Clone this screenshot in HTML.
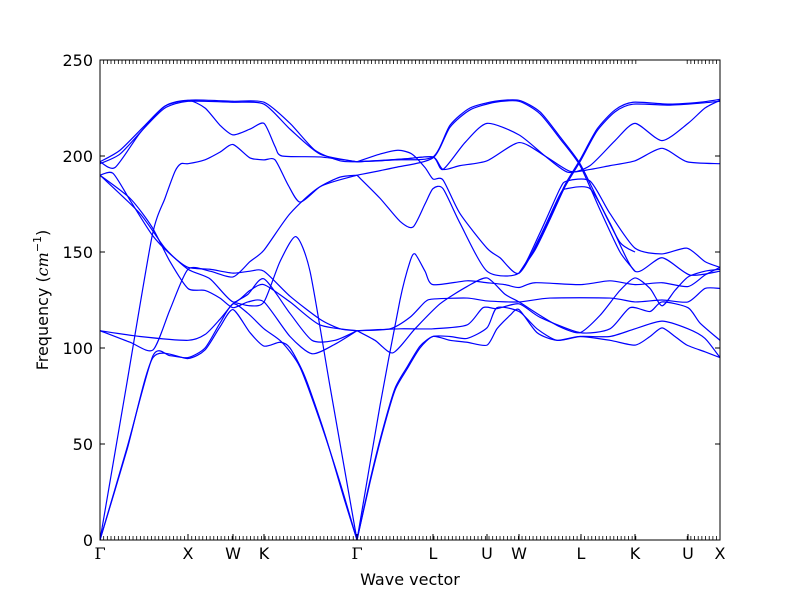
<!DOCTYPE html>
<html><head><meta charset="utf-8"><style>
html,body{margin:0;padding:0;background:#fff;}
svg{display:block;font-family:"DejaVu Sans","Liberation Sans",sans-serif;}
</style></head><body>
<svg id="chart" width="800" height="600" viewBox="0 0 800 600" xmlns="http://www.w3.org/2000/svg">
<defs><clipPath id="plotclip"><rect x="100" y="60" width="620" height="480"/></clipPath></defs>
<rect x="0" y="0" width="800" height="600" fill="#fff"/>
<g id="bands" clip-path="url(#plotclip)"></g>
<g id="axes"></g>
<text x="410" y="585" font-size="16" text-anchor="middle">Wave vector</text>
<text transform="translate(48,300) rotate(-90)" font-size="16" text-anchor="middle">Frequency (<tspan font-family="DejaVu Serif,serif" font-style="italic">cm</tspan><tspan font-size="11" dy="-7">−1</tspan><tspan dy="7">)</tspan></text>
</svg>
<script>
const yTicks = [0, 50, 100, 150, 200, 250];
const kLabels = ["Γ","X","W","K","Γ","L","U","W","L","K","U","X"];
const kDist = [0, 0.88, 1.33, 1.64, 2.57, 3.33, 3.87, 4.19, 4.81, 5.35, 5.88, 6.20];

const b01Q=[0,0.27,0.53,0.70,0.88,1.05,1.20,1.33,1.48,1.64,1.82,2.00,2.20,2.40,2.57];
const b01F=[0,48,96,96,95,100,113,123,118,110,103,90,62,30,0];
const b02Q=[0,0.27,0.53,0.88,1.05,1.20,1.33,1.50,1.64,1.80,1.90,2.05,2.25,2.45,2.57];
const b02F=[0,47,95,94.5,99,111,120,108,101,103,100,85,55,20,0];
const b03Q=[0,0.26,0.52,0.65,0.75,0.81,0.88,1.05,1.20,1.33,1.50,1.64,1.75,1.88,2.00,2.20,2.40,2.57];
const b03F=[0,79,158,178,192,196,196,198,202,206,199,198,198,185,176,184,189,190];
const b04Q=[0,0.20,0.45,0.65,0.88,1.10,1.33,1.64,1.90,2.15,2.40,2.57];
const b04F=[197,203,216,226,229,229,228.5,228,217,203,197.5,197];
const b05Q=[0,0.15,0.40,0.65,0.88,1.05,1.20,1.33,1.50,1.64,1.75,1.82,2.20,2.57];
const b05F=[197,194,212,226,229,225,216,211,214,217,205,200,199.5,197];
const b06Q=[0,0.20,0.45,0.65,0.88,1.33,1.64,1.90,2.20,2.57];
const b06F=[196,201,215,225,228.5,228,227,214,201,197];
const b07Q=[0,0.13,0.30,0.52,0.70,0.88,1.10,1.33,1.50,1.64,1.90,2.20,2.40,2.57];
const b07F=[190,191,177,159,149,142,141,139,140,140,127,115,110,109];
const b08Q=[0,0.30,0.52,0.70,0.88,1.05,1.20,1.33,1.48,1.64,1.90,2.12,2.35,2.57];
const b08F=[190,178,163,145,131,130,126,121,124,124,106,97,102,109];
const b09Q=[0,0.40,0.65,0.88,1.10,1.33,1.50,1.64,1.90,2.20,2.57];
const b09F=[190,170,152,141,136,124,130,133,124,112,109];
const b10Q=[0,0.30,0.53,0.70,0.88,1.10,1.33,1.50,1.64,1.90,2.20,2.57];
const b10F=[109,103,99,120,141,140,137,145,151,170,184,190];
const b11Q=[0,0.40,0.88,1.05,1.20,1.33,1.48,1.64,1.90,2.12,2.35,2.57];
const b11F=[109,106,104,107,115,123,128,136,118,104,104,109];
const b12Q=[1.33,1.50,1.64,1.80,1.96,2.10,2.30,2.57];
const b12F=[124,122,124,145,158,140,80,0];

const b13Q=[2.57,2.80,3.05,3.33,3.43,3.60,3.87,4.19,4.45,4.70,4.90,5.10,5.35,5.62,5.87,6.20];
const b13F=[197,197.5,198.5,199.5,193,195,197.5,207,200,192,193,195,197.5,204,197,196];
const b14Q=[2.57,3.05,3.33,3.43,3.65,3.87,4.19,4.45,4.68,4.90,5.15,5.35,5.62,5.88,6.05,6.20];
const b14F=[197,198.5,199.5,193,207,217,211,200,191.5,195,208,217,208,217,225,229];
const b15Q=[2.57,2.80,2.98,3.12,3.25,3.33,3.43,3.60,3.87,4.00,4.19,4.40,4.60,4.67,4.90,5.10,5.35,5.62,5.87,6.05,6.20];
const b15F=[197,201,203,201,194,188,187.5,170,152,147,139,160,183,187,187,170,152,149,152,145,142];
const b16Q=[2.57,2.80,3.00,3.13,3.25,3.33,3.43,3.60,3.87,4.19,4.40,4.60,4.67,4.90,5.10,5.35,5.62,5.90,6.20];
const b16F=[190,178,166,163,175,183,183,165,140,139,158,180,183,183,165,140,147,138,140];
const b17Q=[2.57,2.95,3.33,3.50,3.70,3.95,4.19,4.40,4.60,4.80,5.00,5.20,5.35];
const b17F=[197,198,199.5,216,225,228.5,229,223,210,196,175,155,150];
const b18Q=[2.57,2.95,3.33,3.50,3.70,3.95,4.19,4.40,4.60,4.80,5.00,5.20,5.35];
const b18F=[190,194,199,215,224,228,228.5,222,209,195,172,150,140];
const b19Q=[4.19,4.35,4.50,4.65,4.80,4.97,5.15,5.33,5.70,6.00,6.20];
const b19F=[139,152,168,185,198,214,224,228,227,228,229.5];
const b20Q=[4.19,4.35,4.50,4.65,4.80,4.97,5.15,5.33,5.70,6.00,6.20];
const b20F=[139,151,167,184,197,213,223,227,226.5,227.5,228.5];

const b21Q=[2.57,2.80,3.00,3.10,3.15,3.25,3.33,3.67,3.87,4.05,4.19,4.35,4.80,5.10,5.35,5.62,5.88,6.05,6.20];
const b21F=[0,70,125,145,149,140,133,135,134,133,131.5,134,133,135,133,134,132,138,142];
const b22Q=[2.57,2.70,2.83,2.95,3.07,3.20,3.33,3.50,3.67,3.87,3.97,4.10,4.19,4.37,4.57,4.80,5.10,5.35,5.50,5.62,5.75,5.87,6.05,6.20];
const b22F=[0,30,57,78,89,100,106,104,103,101.5,110,117,120,108,104,106,104,101.5,106,110.5,106,101.5,98,95];
const b23Q=[2.57,2.70,2.83,2.95,3.07,3.20,3.33,3.50,3.67,3.87,3.97,4.19,4.37,4.57,4.80,5.10,5.35,5.62,5.88,6.05,6.20];
const b23F=[0,31,58,79,90,101,106,106,105,110.5,121,119,110,104,106,106,110,114,110,105,95];
const b24Q=[2.57,2.75,2.93,3.15,3.40,3.67,3.87,4.05,4.19,4.40,4.60,4.80,5.00,5.20,5.35,5.50,5.62,5.75,5.88,6.05,6.20];
const b24F=[109,104,97.5,110,123,132,136.5,128,124,117,111,108,117,130,136.5,131,122,130,137,140,141];
const b25Q=[2.57,2.90,3.10,3.25,3.33,3.67,3.87,4.19,4.50,5.10,5.35,5.62,5.88,6.05,6.20];
const b25F=[109,110,116,124,125.5,126,124.5,124,126,126,124,125,124,131,131];
const b26Q=[2.57,3.00,3.33,3.67,3.83,3.97,4.19,4.40,4.80,5.10,5.30,5.50,5.62,5.88,6.00,6.20];
const b26F=[109,110,110,112,121,120.5,123,116,108,110,121,119,124,121,113,104];

const bandQs=[b01Q,b02Q,b03Q,b04Q,b05Q,b06Q,b07Q,b08Q,b09Q,b10Q,b11Q,b12Q,b13Q,b14Q,b15Q,b16Q,b17Q,b18Q,b19Q,b20Q,b21Q,b22Q,b23Q,b24Q,b25Q,b26Q];
const bandFs=[b01F,b02F,b03F,b04F,b05F,b06F,b07F,b08F,b09F,b10F,b11F,b12F,b13F,b14F,b15F,b16F,b17F,b18F,b19F,b20F,b21F,b22F,b23F,b24F,b25F,b26F];

const NS="http://www.w3.org/2000/svg";
const L=100,R=720,T=60,B=540,QMAX=6.2,FMAX=250;
function xs(q){return L+(R-L)*q/QMAX;}
function ys(f){return B-(B-T)*f/FMAX;}
function mk(tag,attrs,parent){const e=document.createElementNS(NS,tag);for(const k in attrs)e.setAttribute(k,attrs[k]);parent.appendChild(e);return e;}
function smoothPath(P){
  let d='M'+P[0][0].toFixed(2)+','+P[0][1].toFixed(2);
  const k=0.12;
  for(let i=0;i<P.length-1;i++){
    const p0=P[i>0?i-1:i],p1=P[i],p2=P[i+1],p3=P[i+2<P.length?i+2:i+1];
    const c1x=p1[0]+(p2[0]-p0[0])*k,c1y=p1[1]+(p2[1]-p0[1])*k;
    const c2x=p2[0]-(p3[0]-p1[0])*k,c2y=p2[1]-(p3[1]-p1[1])*k;
    d+=' C'+c1x.toFixed(2)+','+c1y.toFixed(2)+' '+c2x.toFixed(2)+','+c2y.toFixed(2)+' '+p2[0].toFixed(2)+','+p2[1].toFixed(2);
  }
  return d;
}

const bandsG=document.getElementById('bands');
for(let i=0;i<bandQs.length;i++){
  const q=bandQs[i],f=bandFs[i];
  const P=q.map((v,j)=>[xs(v),ys(f[j])]);
  const pl=mk('path',{d:smoothPath(P),fill:'none',stroke:'#0000ff','stroke-width':'1.2','stroke-linejoin':'round'},bandsG);
  
  
}

const ax=document.getElementById('axes');
const frame=mk('rect',{x:L,y:T,width:R-L,height:B-T,fill:'none',stroke:'#000','stroke-width':'1'},ax);


for(let q=0;q<=QMAX+1e-6;q+=0.0367){
  if(q>5.36&&q<5.87)continue;
  const x=xs(q).toFixed(2);
  const t1=mk('line',{x1:x,x2:x,y1:B,y2:B-4,stroke:'#000','stroke-width':'0.8'},ax);
  
  
  const t2=mk('line',{x1:x,x2:x,y1:T,y2:T+4,stroke:'#000','stroke-width':'0.8'},ax);
  
  
}
kDist.forEach((q,i)=>{
  const x=xs(q);
  const t=mk('line',{x1:x,x2:x,y1:B,y2:B-6,stroke:'#000','stroke-width':'1'},ax);
  
  
  const isG=kLabels[i]==="Γ";
  const lb=mk('text',{x:x,y:559,'font-size':'16','text-anchor':'middle','font-family':isG?'"DejaVu Serif",serif':'"DejaVu Sans",sans-serif'},ax);
  lb.textContent=kLabels[i];
  
  
});
yTicks.forEach(v=>{
  const y=ys(v);
  const t=mk('line',{x1:L,x2:L+5,y1:y,y2:y,stroke:'#000','stroke-width':'1'},ax);
  
  
  const t2=mk('line',{x1:R,x2:R-5,y1:y,y2:y,stroke:'#000','stroke-width':'1'},ax);
  
  
  const lb=mk('text',{x:93,y:y+6,'font-size':'16','text-anchor':'end'},ax);
  lb.textContent=v;
  
  
});
</script>
</body></html>
